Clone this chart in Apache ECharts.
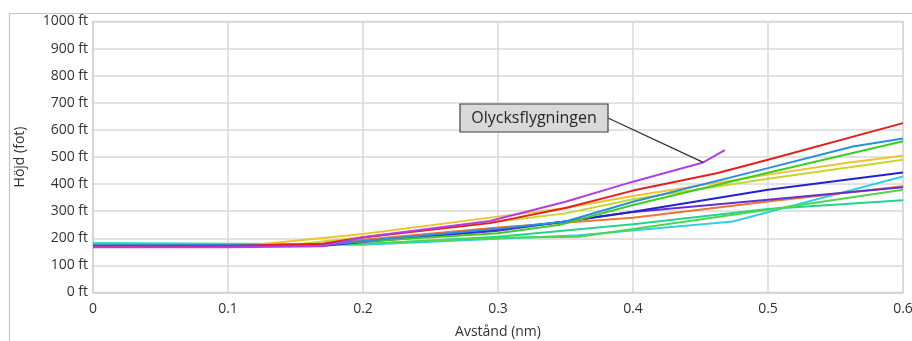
<!DOCTYPE html>
<html>
<head>
<meta charset="utf-8">
<script src="https://cdn.jsdelivr.net/npm/echarts@6/dist/echarts.min.js"></script>
<style>
html,body{margin:0;padding:0;background:#fff;}
#c{width:912px;height:341px;}
</style>
</head>
<body>
<div id="c"></div>
<script>
// Tick labels
const xTicks = [0, 0.1, 0.2, 0.3, 0.4, 0.5, 0.6];
const yTicks = [0, 100, 200, 300, 400, 500, 600, 700, 800, 900, 1000];

// Series: [distance (nm), height (ft)]
const redFlight = [[0,172],[0.1,172],[0.17,180],[0.2,203],[0.294,256],[0.35,312],[0.4,376],[0.462,440],[0.5,490],[0.6,625]];
const blueFlight = [[0,174],[0.17,176],[0.2,190],[0.3,235],[0.35,262],[0.4,335],[0.5,459],[0.563,539],[0.6,568]];
const greenFlight = [[0,176],[0.17,177],[0.2,188],[0.3,219],[0.346,250],[0.4,323],[0.5,442],[0.6,558]];
const goldFlight = [[0,175],[0.12,176],[0.2,216],[0.3,280],[0.35,312],[0.4,356],[0.5,435],[0.56,480],[0.6,505]];
const yellowGreenFlight = [[0,175],[0.15,177],[0.2,205],[0.3,262],[0.35,292],[0.4,344],[0.5,420],[0.6,490]];
const darkBlueFlight = [[0,172],[0.17,173],[0.2,188],[0.3,232],[0.35,262],[0.4,298],[0.5,379],[0.6,443]];
const cyanFlight = [[0,181],[0.2,176],[0.3,198],[0.36,211],[0.474,262],[0.6,428]];
const orangeFlight = [[0,173],[0.17,176],[0.2,195],[0.3,240],[0.4,276],[0.5,336],[0.6,392]];
const violetFlight = [[0,170],[0.17,172],[0.2,186],[0.3,228],[0.4,297],[0.5,342],[0.6,388]];
const lightGreenFlight = [[0,178],[0.2,180],[0.3,202],[0.36,206],[0.5,305],[0.6,379]];
const tealFlight = [[0,182],[0.2,178],[0.3,206],[0.4,252],[0.5,308],[0.6,340]];
const accidentFlight = [[0,167],[0.1,167],[0.17,171],[0.2,204],[0.294,264],[0.35,335],[0.4,409],[0.452,480],[0.468,525]];

const seriesDefs = [
  ['Teal', tealFlight, '#22d48e'],
  ['Cyan', cyanFlight, '#32cfe4'],
  ['LightGreen', lightGreenFlight, '#4cd84a'],
  ['Orange', orangeFlight, '#e9782e'],
  ['Violet', violetFlight, '#6630d0'],
  ['DarkBlue', darkBlueFlight, '#2222d2'],
  ['YellowGreen', yellowGreenFlight, '#c6d62e'],
  ['Gold', goldFlight, '#f0c232'],
  ['Green', greenFlight, '#3ccf22'],
  ['Blue', blueFlight, '#2a8ee0'],
  ['Red', redFlight, '#e51f1f'],
  ['Olycksflygningen', accidentFlight, '#b23ee8']
];
const accidentKink = accidentFlight[7];

const chart = echarts.init(document.getElementById('c'), null, {renderer:'canvas'});
const FONT = '"Open Sans", "Noto Sans", sans-serif';
const TXT = '#333333';
const grid = {left:93, right:9, top:21.5, bottom:48.5};

chart.setOption({
  animation:false,
  backgroundColor:'#fff',
  grid: Object.assign({show:true, borderColor:'#d4d4d4', borderWidth:1.5,
    containLabel:false, outerBoundsMode:'none'}, grid),
  xAxis:{
    type:'value', min:0, max:0.6, interval:0.1,
    name:'Avstånd (nm)', nameLocation:'middle', nameGap:33,
    nameTextStyle:{fontFamily:FONT, fontSize:14, color:TXT},
    axisLine:{show:true, lineStyle:{color:'#d4d4d4', width:1.5}},
    axisTick:{show:false},
    axisLabel:{fontFamily:FONT, fontSize:14, color:TXT, margin:10,
      formatter:function(v){ return String(Number(v.toFixed(1))); }},
    splitLine:{show:true, lineStyle:{color:'#d9d9d9', width:1.5}}
  },
  yAxis:{
    type:'value', min:0, max:1000, interval:100,
    name:'Höjd (fot)', nameLocation:'middle', nameGap:66, nameRotate:90,
    nameTextStyle:{fontFamily:FONT, fontSize:14, color:TXT},
    axisLine:{show:true, lineStyle:{color:'#d4d4d4', width:1.5}},
    axisTick:{show:false},
    axisLabel:{fontFamily:FONT, fontSize:14, color:TXT, margin:5,
      formatter:function(v){ return v + ' ft'; }},
    splitLine:{show:true, lineStyle:{color:'#d9d9d9', width:1.5}}
  },
  series: seriesDefs.map(function(d){
    return {
      name:d[0], type:'line', data:d[1], showSymbol:false, symbol:'none',
      lineStyle:{color:d[2], width:2}, itemStyle:{color:d[2]}, z:2
    };
  })
});

const kinkPx = chart.convertToPixel({xAxisIndex:0, yAxisIndex:0}, accidentKink);
const boxX = 460, boxY = 104, boxW = 148, boxH = 28;
chart.setOption({
  graphic:[
    {type:'rect', left:7, top:11, shape:{x:0, y:0, width:920, height:345},
     style:{fill:'none', stroke:'#c4c4c4', lineWidth:1.2}, silent:true, z:0},
    {type:'line', shape:{x1:boxX+boxW, y1:boxY+boxH/2, x2:kinkPx[0], y2:kinkPx[1]},
     style:{stroke:'#303030', lineWidth:1.3}, z:10},
    {type:'rect', shape:{x:boxX, y:boxY, width:boxW, height:boxH},
     style:{fill:'#d9d9d9', stroke:'#404040', lineWidth:1.2}, z:10},
    {type:'text', x:boxX+boxW/2, y:boxY+boxH/2, z:11,
     style:{text:'Olycksflygningen', fill:'#262626', font:'16px ' + FONT,
       align:'center', verticalAlign:'middle'}}
  ]
});
</script>
</body>
</html>
